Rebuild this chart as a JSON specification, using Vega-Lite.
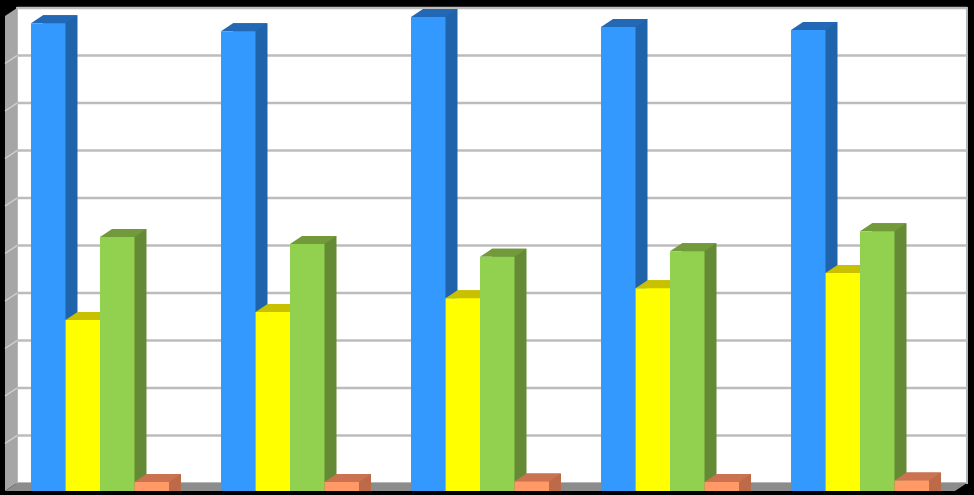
{
  "$schema": "https://vega.github.io/schema/vega-lite/v6.json",
  "width": 950,
  "height": 475,
  "autosize": "none",
  "padding": {"left": 5, "top": 16, "right": 19, "bottom": 4},
  "background": "#000000",
  "config": {"view": {"stroke": null}},
  "datasets": {
    "bars": [
      {"year": "A", "series": "blue", "value": 98.5},
      {"year": "A", "series": "yellow", "value": 36},
      {"year": "A", "series": "green", "value": 53.5},
      {"year": "A", "series": "orange", "value": 1.9},
      {"year": "B", "series": "blue", "value": 96.8},
      {"year": "B", "series": "yellow", "value": 37.7},
      {"year": "B", "series": "green", "value": 52},
      {"year": "B", "series": "orange", "value": 1.9},
      {"year": "C", "series": "blue", "value": 99.8},
      {"year": "C", "series": "yellow", "value": 40.6},
      {"year": "C", "series": "green", "value": 49.3},
      {"year": "C", "series": "orange", "value": 2},
      {"year": "D", "series": "blue", "value": 97.7},
      {"year": "D", "series": "yellow", "value": 42.7},
      {"year": "D", "series": "green", "value": 50.5},
      {"year": "D", "series": "orange", "value": 1.9},
      {"year": "E", "series": "blue", "value": 97.05},
      {"year": "E", "series": "yellow", "value": 45.9},
      {"year": "E", "series": "green", "value": 54.7},
      {"year": "E", "series": "orange", "value": 2.2}
    ],
    "wall": [{"x": 0, "x2": 100, "y": 0, "y2": 100}],
    "grid": [
      {"x": 0, "x2": 100, "y": 10}, {"x": 0, "x2": 100, "y": 20}, {"x": 0, "x2": 100, "y": 30},
      {"x": 0, "x2": 100, "y": 40}, {"x": 0, "x2": 100, "y": 50}, {"x": 0, "x2": 100, "y": 60},
      {"x": 0, "x2": 100, "y": 70}, {"x": 0, "x2": 100, "y": 80}, {"x": 0, "x2": 100, "y": 90},
      {"x": 0, "x2": 100, "y": 100}
    ],
    "leftWall": [
      {"x": 0, "y": 0, "y2": 100},
      {"x": 1.263, "y": 1.684, "y2": 101.684}
    ],
    "floor": [
      {"x": 0, "y": 0, "y2": 0},
      {"x": 1.263, "y": 0, "y2": 1.684},
      {"x": 100, "y": 0, "y2": 1.684},
      {"x": 101.263, "y": 1.684, "y2": 1.684}
    ],
    "wallTicks": [
      {"x": 0, "x2": 1.263, "y": 10, "y2": 11.684}, {"x": 0, "x2": 1.263, "y": 20, "y2": 21.684},
      {"x": 0, "x2": 1.263, "y": 30, "y2": 31.684}, {"x": 0, "x2": 1.263, "y": 40, "y2": 41.684},
      {"x": 0, "x2": 1.263, "y": 50, "y2": 51.684}, {"x": 0, "x2": 1.263, "y": 60, "y2": 61.684},
      {"x": 0, "x2": 1.263, "y": 70, "y2": 71.684}, {"x": 0, "x2": 1.263, "y": 80, "y2": 81.684},
      {"x": 0, "x2": 1.263, "y": 90, "y2": 91.684}
    ]
  },
  "resolve": {"scale": {"x": "independent"}},
  "layer": [
    {
      "encoding": {
        "x": {"field": "x", "type": "quantitative", "axis": null, "scale": {"domain": [0, 100], "nice": false, "zero": false}},
        "y": {"field": "y", "type": "quantitative", "axis": null, "scale": {"domain": [0, 100], "nice": false}}
      },
      "layer": [
        {
          "data": {"name": "wall"},
          "mark": {"type": "rect", "fill": "#ffffff", "stroke": "#b8b8b8", "strokeWidth": 2, "xOffset": 12, "x2Offset": 12, "yOffset": -8, "y2Offset": -8},
          "encoding": {"x2": {"field": "x2"}, "y2": {"field": "y2"}}
        },
        {
          "data": {"name": "grid"},
          "mark": {"type": "rule", "color": "#bcbcbc", "strokeWidth": 2.5, "xOffset": 12, "x2Offset": 12, "yOffset": -8},
          "encoding": {"x2": {"field": "x2"}}
        },
        {
          "data": {"name": "leftWall"},
          "mark": {"type": "area", "color": "#a6a6a6", "opacity": 1},
          "encoding": {"y2": {"field": "y2"}}
        },
        {
          "data": {"name": "wallTicks"},
          "mark": {"type": "rule", "color": "#cfcfcf", "strokeWidth": 1.5},
          "encoding": {"x2": {"field": "x2"}, "y2": {"field": "y2"}}
        },
        {
          "data": {"name": "floor"},
          "mark": {"type": "area", "color": "#8c8c8c", "opacity": 1},
          "encoding": {"y2": {"field": "y2"}}
        }
      ]
    },
    {
      "data": {"name": "bars"},
      "resolve": {"scale": {"x": "independent", "xOffset": "independent", "color": "independent"}},
      "encoding": {
        "xOffset": {"field": "series", "type": "nominal", "sort": null, "scale": {"type": "band", "domain": ["blue", "yellow", "green", "orange"], "paddingInner": 0, "paddingOuter": 0}},
        "y": {"field": "value", "type": "quantitative", "axis": null, "stack": null, "scale": {"domain": [0, 100], "nice": false}}
      },
      "layer": [
        {
          "mark": {"type": "bar", "yOffset": -8, "y2Offset": -8},
          "encoding": {
            "x": {"field": "year", "type": "nominal", "axis": null, "scale": {"range": [12, 962], "paddingInner": 0.2737, "paddingOuter": 0.1368}},
            "color": {"field": "series", "type": "nominal", "legend": null, "scale": {"domain": ["blue", "yellow", "green", "orange"], "range": ["#1f63ab", "#c4bc00", "#658a35", "#bd6a48"]}}
          }
        },
        {
          "mark": {"type": "point", "filled": true, "opacity": 1, "size": 1600, "shape": "M-.8625,0L.8625,0L1.4625,-.4L-.2625,-.4Z"},
          "encoding": {
            "x": {"field": "year", "type": "nominal", "axis": null, "scale": {"type": "band", "paddingInner": 0.2737, "paddingOuter": 0.1368}},
            "color": {"field": "series", "type": "nominal", "legend": null, "scale": {"domain": ["blue", "yellow", "green", "orange"], "range": ["#2268b4", "#c8c000", "#72993a", "#cb7350"]}}
          }
        },
        {
          "mark": {"type": "point", "filled": true, "opacity": 1, "size": 1600, "shape": "M.8625,0L1.4625,-.4L.8625,-.4Z"},
          "encoding": {
            "x": {"field": "year", "type": "nominal", "axis": null, "scale": {"type": "band", "paddingInner": 0.2737, "paddingOuter": 0.1368}},
            "y": {"datum": 0},
            "color": {"field": "series", "type": "nominal", "legend": null, "scale": {"domain": ["blue", "yellow", "green", "orange"], "range": ["#1f63ab", "#c4bc00", "#658a35", "#bd6a48"]}}
          }
        },
        {
          "mark": {"type": "bar"},
          "encoding": {
            "x": {"field": "year", "type": "nominal", "axis": null, "scale": {"paddingInner": 0.2737, "paddingOuter": 0.1368}},
            "color": {"field": "series", "type": "nominal", "legend": null, "scale": {"domain": ["blue", "yellow", "green", "orange"], "range": ["#3399ff", "#ffff00", "#92d050", "#ff9966"]}}
          }
        }
      ]
    }
  ]
}
